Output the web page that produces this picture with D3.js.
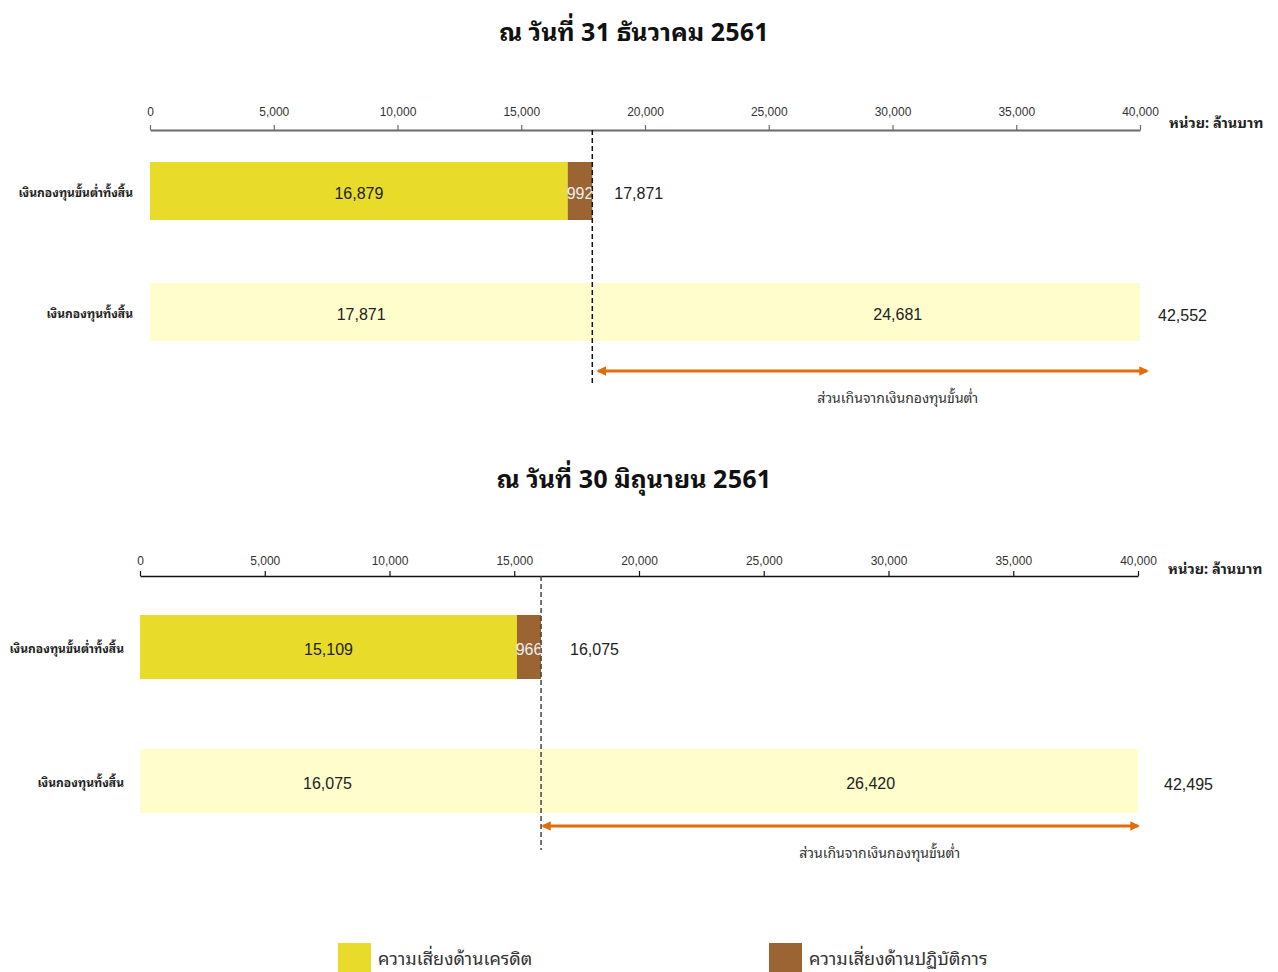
<!DOCTYPE html>
<html>
<head>
<meta charset="utf-8">
<script src="https://cdn.jsdelivr.net/npm/d3@7"></script>
<style>
  body { margin: 0; background: #fff; }
  svg text { font-family: "Noto Sans Thai Looped", "Noto Sans Thai", "Noto Sans", sans-serif; }
  .num { font-family: "Liberation Sans Narrow", "Liberation Sans", "Noto Sans", sans-serif; }
</style>
</head>
<body>
<svg id="chart" width="1278" height="972"></svg>
<script>
// data
var periods = ['ณ วันที่ 31 ธันวาคม 2561', 'ณ วันที่ 30 มิถุนายน 2561'];
var categories = ['เงินกองทุนขั้นต่ำทั้งสิ้น', 'เงินกองทุนทั้งสิ้น'];
var creditRisk = [16879, 15109];
var operationalRisk = [992, 966];
var minCapital = [17871, 16075];
var excessCapital = [24681, 26420];
var totalCapital = [42552, 42495];
var tickValues = [0, 5000, 10000, 15000, 20000, 25000, 30000, 35000, 40000];
var legendLabels = ['ความเสี่ยงด้านเครดิต', 'ความเสี่ยงด้านปฏิบัติการ'];
var unitLabel = 'หน่วย: ล้านบาท';
var excessLabel = 'ส่วนเกินจากเงินกองทุนขั้นต่ำ';

var colors = { credit: '#E8DB2A', oper: '#9A6433', total: '#FFFDCC', arrow: '#E36C0A' };
var fmt = d3.format(',');

// layout of the two panels
var panels = [
    { titleY: 30, axisY: 130, x0: 150, x1: 1140, rows: [191, 312], barH: 58, arrowY: 371,
      dashEnd: 384, axisColor: '#6b6b6b', axisWidth: 2, dashColor: '#111', labelX: 133, unitX: 1169,
      pad: 9, minDx: 22, totDx: 18, arrowDx: [6, 7], baseDx: -10, noteDx: 0 },
    { titleY: 477, axisY: 576, x0: 140, x1: 1138, rows: [647, 781], barH: 64, arrowY: 826,
      dashEnd: 850, axisColor: '#111', axisWidth: 1.5, dashColor: '#444', labelX: 124, unitX: 1168,
      pad: 6, minDx: 29, totDx: 26, arrowDx: [2, 0], baseDx: -13, noteDx: 9 }
];

var svg = d3.select('#chart');

svg.append('defs').append('marker')
    .attr('id', 'head')
    .attr('viewBox', '0 0 10 10')
    .attr('refX', 8).attr('refY', 5)
    .attr('markerWidth', 3.2).attr('markerHeight', 3.2)
    .attr('orient', 'auto-start-reverse')
    .append('path')
    .attr('d', 'M0,0 L10,5 L0,10 Z')
    .attr('fill', colors.arrow);

panels.forEach(function(p, i) {
    var g = svg.append('g');
    // bars are clipped at the end of the axis, labels sit on the true midpoints
    var xFree = d3.scaleLinear().domain([0, 40000]).range([p.x0, p.x1]);
    var x = xFree.copy().clamp(true);
    var y = d3.scalePoint().domain(categories).range(p.rows);

    g.append('text')
        .attr('x', 634).attr('y', p.titleY)
        .attr('text-anchor', 'middle').attr('dominant-baseline', 'central')
        .style('font-size', '25px').style('font-weight', 'bold').style('fill', '#111')
        .text(periods[i]);

    var axis = g.append('g')
        .attr('transform', 'translate(0,' + p.axisY + ')')
        .call(d3.axisTop(x).tickValues(tickValues).tickFormat(fmt)
            .tickSize(5).tickSizeOuter(0).tickPadding(p.pad));
    axis.select('.domain').attr('stroke', p.axisColor).attr('stroke-width', p.axisWidth);
    axis.selectAll('.tick line').attr('stroke', p.axisColor).attr('stroke-width', 1.2);
    axis.selectAll('.tick text').attr('class', 'num')
        .style('font-size', '12px').style('fill', '#333');

    g.append('text')
        .attr('x', p.unitX).attr('y', p.axisY - 9)
        .attr('dominant-baseline', 'central')
        .style('font-size', '14.5px').style('font-weight', 'bold').style('fill', '#222')
        .text(unitLabel);

    // category labels
    g.selectAll('.cat').data(categories).enter().append('text')
        .attr('x', p.labelX).attr('y', function(d) { return y(d); })
        .attr('text-anchor', 'end').attr('dominant-baseline', 'central')
        .style('font-size', '12px').style('font-weight', 'bold').style('fill', '#222')
        .text(function(d) { return d; });

    // row 1: minimum capital = credit + operational
    var segs1 = [
        { from: 0, to: creditRisk[i], fill: colors.credit, v: creditRisk[i], tc: '#222', dx: 0 },
        { from: creditRisk[i], to: minCapital[i], fill: colors.oper, v: operationalRisk[i], tc: '#eee', dx: 0 }
    ];
    // row 2: total capital = minimum + excess
    var segs2 = [
        { from: 0, to: minCapital[i], fill: colors.total, v: minCapital[i], tc: '#222', dx: p.baseDx },
        { from: minCapital[i], to: totalCapital[i], fill: colors.total, v: excessCapital[i], tc: '#222', dx: 0 }
    ];
    [segs1, segs2].forEach(function(segs, r) {
        var cy = y(categories[r]);
        var row = g.append('g');
        row.selectAll('rect').data(segs).enter().append('rect')
            .attr('x', function(d) { return x(d.from); })
            .attr('width', function(d) { return x(d.to) - x(d.from); })
            .attr('y', cy - p.barH / 2).attr('height', p.barH)
            .attr('fill', function(d) { return d.fill; });
        row.selectAll('text').data(segs).enter().append('text')
            .attr('class', 'num')
            .attr('x', function(d) { return (xFree(d.from) + xFree(d.to)) / 2 + d.dx; })
            .attr('y', cy + 2)
            .attr('text-anchor', 'middle').attr('dominant-baseline', 'central')
            .style('font-size', '16px').style('fill', function(d) { return d.tc; })
            .text(function(d) { return fmt(d.v); });
    });

    // totals to the right of the bars
    g.append('text').attr('class', 'num')
        .attr('x', x(minCapital[i]) + p.minDx).attr('y', y(categories[0]) + 2)
        .attr('dominant-baseline', 'central')
        .style('font-size', '16px').style('fill', '#222')
        .text(fmt(minCapital[i]));
    g.append('text').attr('class', 'num')
        .attr('x', x(totalCapital[i]) + p.totDx).attr('y', y(categories[1]) + 3)
        .attr('dominant-baseline', 'central')
        .style('font-size', '16px').style('fill', '#222')
        .text(fmt(totalCapital[i]));

    // dashed minimum line
    g.append('line')
        .attr('x1', x(minCapital[i])).attr('x2', x(minCapital[i]))
        .attr('y1', p.axisY).attr('y2', p.dashEnd)
        .attr('stroke', p.dashColor).attr('stroke-width', 1.5)
        .attr('stroke-dasharray', '5,3');

    // excess arrow
    g.append('line')
        .attr('x1', x(minCapital[i]) + p.arrowDx[0]).attr('x2', x(totalCapital[i]) + p.arrowDx[1])
        .attr('y1', p.arrowY).attr('y2', p.arrowY)
        .attr('stroke', colors.arrow).attr('stroke-width', 3)
        .attr('marker-start', 'url(#head)').attr('marker-end', 'url(#head)');
    g.append('text')
        .attr('x', (xFree(minCapital[i]) + xFree(totalCapital[i])) / 2 + p.noteDx)
        .attr('y', p.arrowY + 25)
        .attr('text-anchor', 'middle').attr('dominant-baseline', 'central')
        .style('font-size', '14px').style('fill', '#333')
        .text(excessLabel);
});

// legend
var legend = svg.append('g').selectAll('g')
    .data(legendLabels).enter().append('g')
    .attr('transform', function(d, i) { return 'translate(' + (338 + i * 431) + ',943)'; });
legend.append('rect')
    .attr('width', 33).attr('height', 30)
    .attr('fill', function(d, i) { return i === 0 ? colors.credit : colors.oper; });
legend.append('text')
    .attr('x', 40).attr('y', 14)
    .attr('dominant-baseline', 'central')
    .style('font-size', '18px').style('fill', '#333')
    .text(function(d) { return d; });
</script>
</body>
</html>
